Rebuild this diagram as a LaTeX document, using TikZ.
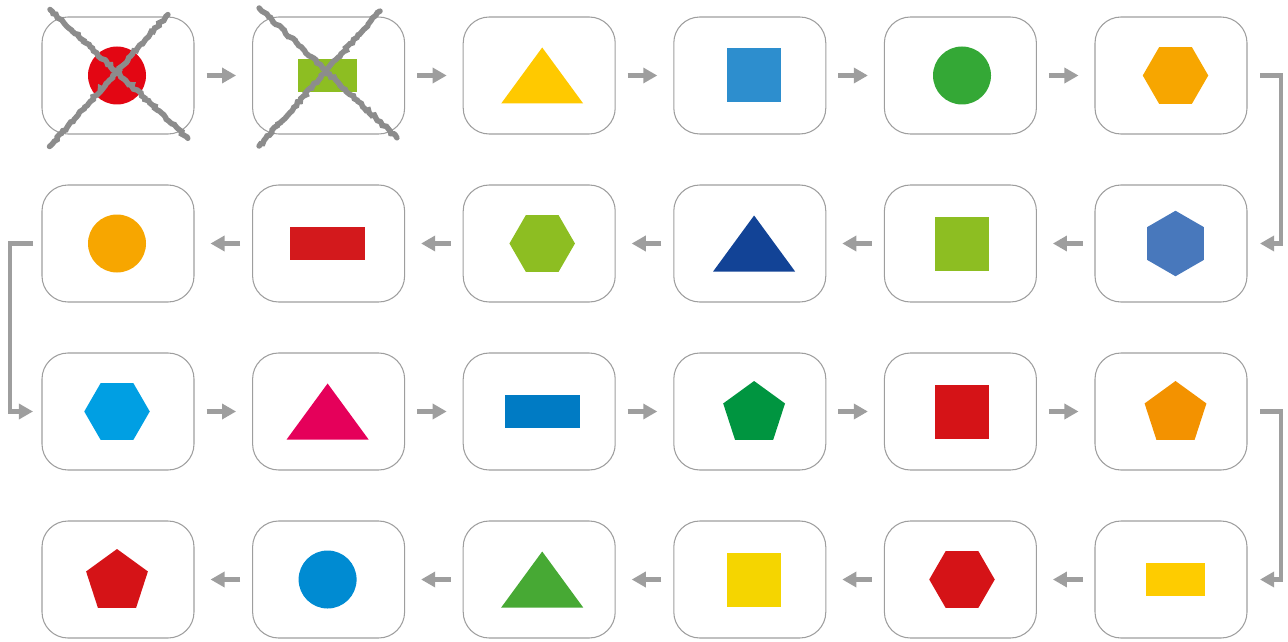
\documentclass[tikz,border=0pt]{standalone}
\usepackage{xcolor}
\usepackage{tikz}
\usetikzlibrary{arrows.meta,positioning,shapes.geometric,decorations.pathmorphing}

\definecolor{cRed}{HTML}{E30613}
\definecolor{cLime}{HTML}{8DBE22}
\definecolor{cYellow}{HTML}{FFC900}
\definecolor{cSky}{HTML}{2D8ECE}
\definecolor{cGreen}{HTML}{34A836}
\definecolor{cOrange}{HTML}{F7A600}
\definecolor{cBrick}{HTML}{D3191C}
\definecolor{cNavy}{HTML}{124396}
\definecolor{cSteel}{HTML}{4878BC}
\definecolor{cCyan}{HTML}{009FE3}
\definecolor{cMagenta}{HTML}{E5005A}
\definecolor{cBlue}{HTML}{007BC4}
\definecolor{cForest}{HTML}{009540}
\definecolor{cScarlet}{HTML}{D51317}
\definecolor{cAmber}{HTML}{F39200}
\definecolor{cAzure}{HTML}{008BD2}
\definecolor{cGrass}{HTML}{47A934}
\definecolor{cLemon}{HTML}{F5D500}
\definecolor{cGold}{HTML}{FECC00}

\begin{document}
\begin{tikzpicture}[
    node distance=1.02cm and 1.172cm,
    card/.style={draw=black!38, line width=0.6pt, outer sep=0pt, rounded corners=0.52cm, minimum width=3.04cm, minimum height=2.34cm},
    arrow/.style={-{Triangle[length=8pt,width=8.5pt]}, line width=2.3pt, draw=black!38},
    dot/.style={circle, inner sep=0pt, minimum size=1.16cm},
    quad/.style={rectangle, inner sep=0pt, minimum size=1.08cm},
    bar/.style={rectangle, inner sep=0pt, minimum width=1.5cm, minimum height=0.66cm},
    hexa/.style={regular polygon, regular polygon sides=6, inner sep=0pt, minimum size=1.31cm},
    penta/.style={regular polygon, regular polygon sides=5, inner sep=0pt, minimum size=1.3cm, yshift=-0.04cm},
    scratch/.style={draw=black!45, line width=0.11cm, line cap=round, decorate, decoration={random steps, segment length=1.5pt, amplitude=0.7pt}},
    tri/.pic={\path[pic actions] (-0.82,-0.56) -- (0.82,-0.56) -- (0,0.56) -- cycle;}
]
\useasboundingbox (0,0) rectangle (25.76,-12.82);

% cards, in the order of the flow
\node[card] (s1) at (2.36,-1.51) {};
\node[card, right=of s1] (s2) {};
\node[card, right=of s2] (s3) {};
\node[card, right=of s3] (s4) {};
\node[card, right=of s4] (s5) {};
\node[card, right=of s5] (s6) {};
\node[card, below=of s6] (s7) {};
\node[card, left=of s7] (s8) {};
\node[card, left=of s8] (s9) {};
\node[card, left=of s9] (s10) {};
\node[card, left=of s10] (s11) {};
\node[card, left=of s11] (s12) {};
\node[card, below=of s12] (s13) {};
\node[card, right=of s13] (s14) {};
\node[card, right=of s14] (s15) {};
\node[card, right=of s15] (s16) {};
\node[card, right=of s16] (s17) {};
\node[card, right=of s17] (s18) {};
\node[card, below=of s18] (s19) {};
\node[card, left=of s19] (s20) {};
\node[card, left=of s20] (s21) {};
\node[card, left=of s21] (s22) {};
\node[card, left=of s22] (s23) {};
\node[card, left=of s23] (s24) {};

% shapes
\node[dot, fill=cRed, xshift=-0.02cm] (g1) at (s1) {};
\node[bar, fill=cLime, minimum width=1.18cm, xshift=-0.02cm] (g2) at (s2) {};
\pic[fill=cYellow, xshift=0.06cm] at (s3) {tri};
\node[quad, fill=cSky, xshift=0.086cm] (g4) at (s4) {};
\node[dot, fill=cGreen, xshift=0.032cm] (g5) at (s5) {};
\node[hexa, fill=cOrange, xshift=0.09cm] (g6) at (s6) {};
\node[hexa, fill=cSteel, shape border rotate=30, xshift=0.09cm] (g7) at (s7) {};
\node[quad, fill=cLime, xshift=0.032cm] (g8) at (s8) {};
\pic[fill=cNavy, xshift=0.086cm] at (s9) {tri};
\node[hexa, fill=cLime, xshift=0.06cm] (g10) at (s10) {};
\node[bar, fill=cBrick, xshift=-0.02cm] (g11) at (s11) {};
\node[dot, fill=cOrange, xshift=-0.02cm] (g12) at (s12) {};
\node[hexa, fill=cCyan, xshift=-0.02cm] (g13) at (s13) {};
\pic[fill=cMagenta, xshift=-0.02cm] at (s14) {tri};
\node[bar, fill=cBlue, xshift=0.06cm] (g15) at (s15) {};
\node[penta, fill=cForest, xshift=0.086cm] (g16) at (s16) {};
\node[quad, fill=cScarlet, xshift=0.032cm] (g17) at (s17) {};
\node[penta, fill=cAmber, xshift=0.09cm] (g18) at (s18) {};
\node[bar, fill=cGold, minimum width=1.18cm, xshift=0.09cm] (g19) at (s19) {};
\node[hexa, fill=cScarlet, xshift=0.032cm] (g20) at (s20) {};
\node[quad, fill=cLemon, xshift=0.086cm] (g21) at (s21) {};
\pic[fill=cGrass, xshift=0.06cm] at (s22) {tri};
\node[dot, fill=cAzure, xshift=-0.02cm] (g23) at (s23) {};
\node[penta, fill=cScarlet, xshift=-0.02cm] (g24) at (s24) {};

% crossed out
\draw[scratch] ([shift={(-1.36,1.32)}]s1.center) -- ([shift={(1.4,-1.26)}]s1.center);
\draw[scratch] ([shift={(-1.37,-1.42)}]s1.center) -- ([shift={(1.0,1.22)}]s1.center);
\draw[scratch] ([shift={(-1.39,1.35)}]s2.center) -- ([shift={(1.37,-1.25)}]s2.center);
\draw[scratch] ([shift={(-1.39,-1.41)}]s2.center) -- ([shift={(1.03,1.29)}]s2.center);

% flow
\draw[arrow] ([xshift=0.25cm]s1.east) -- ([xshift=-0.33cm]s2.west);
\draw[arrow] ([xshift=0.25cm]s2.east) -- ([xshift=-0.33cm]s3.west);
\draw[arrow] ([xshift=0.25cm]s3.east) -- ([xshift=-0.33cm]s4.west);
\draw[arrow] ([xshift=0.25cm]s4.east) -- ([xshift=-0.33cm]s5.west);
\draw[arrow] ([xshift=0.25cm]s5.east) -- ([xshift=-0.33cm]s6.west);
\draw[arrow] ([xshift=0.26cm]s6.east) -- ++(0.42,0) |- ([xshift=0.26cm]s7.east);
\draw[arrow] ([xshift=-0.25cm]s7.west) -- ([xshift=0.33cm]s8.east);
\draw[arrow] ([xshift=-0.25cm]s8.west) -- ([xshift=0.33cm]s9.east);
\draw[arrow] ([xshift=-0.25cm]s9.west) -- ([xshift=0.33cm]s10.east);
\draw[arrow] ([xshift=-0.25cm]s10.west) -- ([xshift=0.33cm]s11.east);
\draw[arrow] ([xshift=-0.25cm]s11.west) -- ([xshift=0.33cm]s12.east);
\draw[arrow] ([xshift=-0.18cm]s12.west) -- ++(-0.46,0) |- ([xshift=-0.18cm]s13.west);
\draw[arrow] ([xshift=0.25cm]s13.east) -- ([xshift=-0.33cm]s14.west);
\draw[arrow] ([xshift=0.25cm]s14.east) -- ([xshift=-0.33cm]s15.west);
\draw[arrow] ([xshift=0.25cm]s15.east) -- ([xshift=-0.33cm]s16.west);
\draw[arrow] ([xshift=0.25cm]s16.east) -- ([xshift=-0.33cm]s17.west);
\draw[arrow] ([xshift=0.25cm]s17.east) -- ([xshift=-0.33cm]s18.west);
\draw[arrow] ([xshift=0.26cm]s18.east) -- ++(0.42,0) |- ([xshift=0.26cm]s19.east);
\draw[arrow] ([xshift=-0.25cm]s19.west) -- ([xshift=0.33cm]s20.east);
\draw[arrow] ([xshift=-0.25cm]s20.west) -- ([xshift=0.33cm]s21.east);
\draw[arrow] ([xshift=-0.25cm]s21.west) -- ([xshift=0.33cm]s22.east);
\draw[arrow] ([xshift=-0.25cm]s22.west) -- ([xshift=0.33cm]s23.east);
\draw[arrow] ([xshift=-0.25cm]s23.west) -- ([xshift=0.33cm]s24.east);
\end{tikzpicture}
\end{document}
